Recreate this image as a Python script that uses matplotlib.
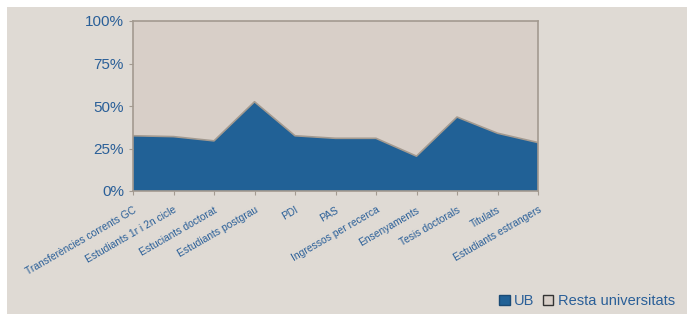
import matplotlib.pyplot as plt
from matplotlib.patches import Rectangle
from matplotlib.ticker import PercentFormatter

categories = ['Transferències corrents GC', 'Estudiants 1r i 2n cicle', 'Estuciants doctorat',
              'Estudiants postgrau', 'PDI', 'PAS', 'Ingressos per recerca', 'Ensenyaments',
              'Tesis doctorals', 'Titulats', 'Estudiants estrangers']
ub = [32.5, 32.0, 29.5, 52.5, 32.5, 31.0, 31.0, 20.5, 43.5, 34.0, 28.5]
rest = [100 - v for v in ub]

blue = '#216196'
beige = '#d8cfc8'
bg = '#dfdad4'
edge = '#a39a90'
txt = '#2a5f98'

plt.rcParams['font.family'] = ['Liberation Sans', 'DejaVu Sans']

fig = plt.figure(figsize=(6.87, 3.14), dpi=100)
fig.patch.set_facecolor('white')
fig.patches.append(Rectangle((7 / 687, 0), 1, 1 - 7 / 314, transform=fig.transFigure,
                             facecolor=bg, edgecolor='none', zorder=-10))

ax = fig.add_axes([133 / 687, 1 - 191 / 314, (538 - 133) / 687, (191 - 21) / 314])
x = list(range(len(categories)))
ax.stackplot(x, ub, rest, colors=[blue, beige], labels=['UB', 'Resta universitats'])
ax.plot(x, ub, color=edge, lw=1.2)
ax.set_xlim(0, len(categories) - 1)
ax.set_ylim(0, 100)
ax.set_yticks([0, 25, 50, 75, 100])
ax.yaxis.set_major_formatter(PercentFormatter(decimals=0))
ax.set_xticks(x)
ax.set_xticklabels(categories, rotation=30, ha='right', rotation_mode='anchor', fontsize=7.4, color=txt)
ax.tick_params(axis='y', labelsize=11, colors=edge, labelcolor=txt, length=3)
ax.tick_params(axis='x', colors=edge, labelcolor=txt, length=3, pad=7)
for s in ax.spines.values():
    s.set_color(edge)
    s.set_linewidth(1.2)

h = [Rectangle((0, 0), 1, 1, facecolor=blue, edgecolor='#1a4a75'),
     Rectangle((0, 0), 1, 1, facecolor=beige, edgecolor='#333333')]
fig.legend(h, ['UB', 'Resta universitats'], loc='lower right', bbox_to_anchor=(0.995, -0.01),
           ncol=2, frameon=False, fontsize=10.5, labelcolor=txt, handlelength=0.7, handleheight=0.7,
           handletextpad=0.3, columnspacing=0.6, borderaxespad=0.2)

fig.savefig('out.png', dpi=100, facecolor=fig.get_facecolor())
